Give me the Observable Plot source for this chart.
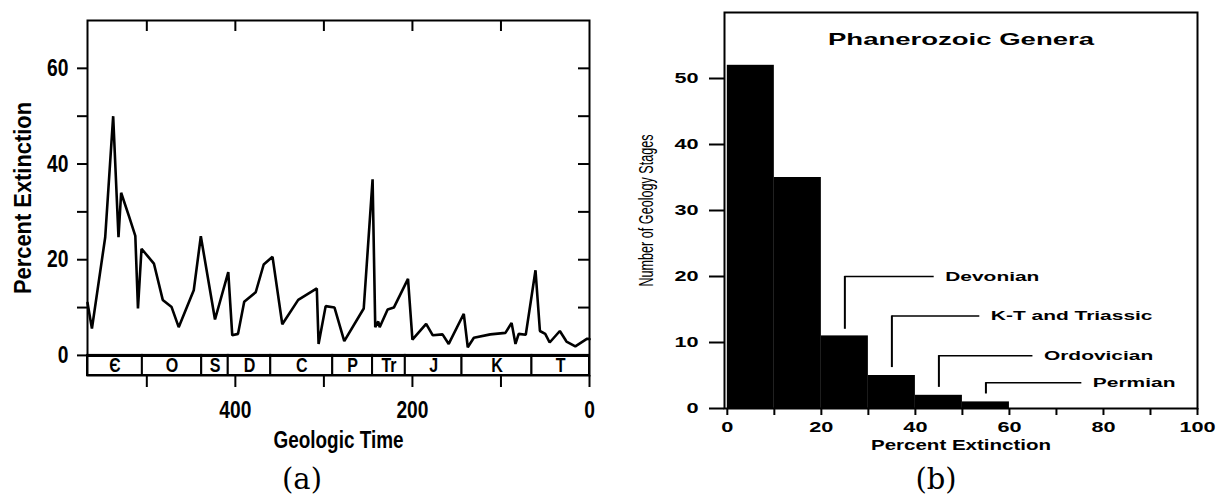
<!DOCTYPE html>
<html><head><meta charset="utf-8">
<script src="https://cdn.jsdelivr.net/npm/d3@7"></script>
<script src="https://cdn.jsdelivr.net/npm/@observablehq/plot@0.6"></script>
<style>
body{margin:0;background:#fff;width:1221px;height:503px;overflow:hidden;position:relative;font-family:"Liberation Sans",Arial,sans-serif}
#a{position:absolute;left:0;top:0}
#b{position:absolute;left:610px;top:0}
.cap{position:absolute;font-family:"DejaVu Serif","Liberation Serif",serif;font-size:29px;top:462px;transform:translateX(-50%);color:#000}
</style></head><body>
<div id="a"></div><div id="b"></div>
<div class="cap" style="left:302px">(a)</div>
<div class="cap" style="left:936px">(b)</div>
<script>
// ---- (a) percent extinction through geologic time ----
const ages = [567,562,547,538,532,529,520,513,510,506,492,482,472,464,447,439,423,408,403.5,397,390,377,368,358,347,329,308,306,298,288,277,255,245,242,238.6,237,228,221,205,200,184.5,177,166,159,142,137.5,130.6,112,95,88,83.6,80,72,61,56,50,45,33.5,26,16,2.6,0];
const pct  = [11,5.6,24.7,50,24.7,34,29,25,9.8,22.3,19.2,11.6,10.1,5.9,13.6,24.9,7.5,17.4,4.2,4.5,11.2,13.2,19,20.6,6.5,11.6,14,2.4,10.3,10,3,9.8,36.8,5.9,7.1,5.9,9.6,10,16,3.3,6.6,4.2,4.4,2.4,8.7,1.7,3.7,4.4,4.7,6.8,2.4,4.5,4.3,17.8,5.1,4.5,2.7,5.1,2.9,1.9,3.5,3.4];
const periodNames  = ["Є","O","S","D","C","P","Tr","J","K","T"];
const periodStarts = [567,505,438,408,360,290,245,208,144,65];
const periodEnds   = [505,438,408,360,290,245,208,144,65,0];
const ageTicks = [500,400,300,200,100,0];
const ageLabels = [400,200,0];

// ---- (b) histogram of Phanerozoic genera ----
const binLo = [0,10,20,30,40,50];
const binHi = [10,20,30,40,50,60];
const stageCounts = [52,35,11,5,2,1];
const eventNames = ["Devonian","K-T and Triassic","Ordovician","Permian"];
const eventPct   = [25,35,45,55];
const eventBase  = [12,6.2,3.2,2.2];
const eventLevel = [20,14,8,3.9];
const eventEnd   = [44,53.7,65,75.4];
const histTitle = "Phanerozoic Genera";
const histYLabel = "Number of Geology Stages";

const ext = ages.map((a,i)=>({age:a, pct:pct[i]}));
const periods = periodNames.map((n,i)=>({name:n, start:periodStarts[i], end:periodEnds[i]}));
const bins = binLo.map((lo,i)=>({lo, hi:binHi[i], count:stageCounts[i]}));
const events = eventNames.map((n,i)=>({label:n, pct:eventPct[i], base:eventBase[i], level:eventLevel[i], end:eventEnd[i]}));
const yLow = -4.2;

const fam = "Liberation Sans, Arial, sans-serif";
const leftH = 470, leftMT = 20, leftMB = 95;
const left = Plot.plot({
  width: 610, height: leftH,
  marginLeft: 87, marginRight: 21, marginTop: leftMT, marginBottom: leftMB,
  style: {fontFamily: fam, fontSize: "24px", fontWeight: "bold", color: "#000", background: "transparent"},
  x: {domain: [567, 0]},
  y: {domain: [yLow, 70]},
  marks: [
    Plot.rect(periods, {x1: "start", x2: "end", y1: yLow, y2: 0, fill: "white", stroke: "black", strokeWidth: 2}),
    Plot.text(periods, {x: d => (d.start + d.end) / 2, y: yLow / 2, text: "name", fontSize: 20, fontWeight: "bold"}),
    Plot.ruleY([0], {strokeWidth: 3}),
    Plot.line(ext, {x: "age", y: "pct", strokeWidth: 2.6, strokeLinejoin: "miter"}),
    Plot.frame({strokeWidth: 2}),
    // inward ticks along the top edge
    Plot.ruleX(ageTicks.filter(d => d > 0), {strokeWidth: 2, insetBottom: leftH - leftMT - leftMB - 11}),
    Plot.axisY({ticks: d3.range(0, 61, 10), tickSize: 10, tickPadding: 9, strokeWidth: 2,
      tickFormat: d => d % 20 === 0 ? String(d) : "",
      label: "Percent Extinction", labelArrow: "none", labelAnchor: "center", labelOffset: 74}),
    Plot.axisY({anchor: "right", ticks: d3.range(10, 61, 10), tickSize: -12, strokeWidth: 2, tickFormat: () => "", label: null}),
    Plot.axisX({anchor: "bottom", ticks: ageTicks, tickSize: 12, tickPadding: 13, strokeWidth: 2,
      tickFormat: d => ageLabels.includes(d) ? String(d) : "",
      label: "Geologic Time", labelArrow: "none", labelAnchor: "center", labelOffset: 72})
  ]
});

const right = Plot.plot({
  width: 611, height: 470,
  marginLeft: 114, marginRight: 24, marginTop: 12, marginBottom: 62,
  style: {fontFamily: fam, fontSize: "14px", fontWeight: "bold", color: "#000", background: "transparent"},
  x: {domain: [-0.6, 100]},
  y: {domain: [0, 60]},
  marks: [
    Plot.rectY(bins, {x1: "lo", x2: "hi", y: "count", fill: "black"}),
    Plot.ruleX(events, {x: "pct", y1: "base", y2: "level", strokeWidth: 2}),
    Plot.ruleY(events, {y: "level", x1: "pct", x2: "end", strokeWidth: 1.5}),
    Plot.text(events, {x: "end", y: "level", text: "label", textAnchor: "start", dx: 11, fontSize: 13.5}),
    Plot.text([histTitle], {frameAnchor: "top", dy: 20, fontSize: 17}),
    Plot.text([histYLabel], {frameAnchor: "left", textAnchor: "middle", lineAnchor: "middle", rotate: -90, dx: -78, fontSize: 21, fontWeight: "normal"}),
    Plot.frame({strokeWidth: 2}),
    Plot.axisY({ticks: d3.range(0, 51, 10), tickSize: 15, tickPadding: 11, strokeWidth: 2, label: null}),
    Plot.axisX({ticks: d3.range(0, 101, 10), tickSize: 7, tickPadding: 7, strokeWidth: 2,
      tickFormat: d => d % 20 === 0 ? String(d) : "",
      label: "Percent Extinction", labelArrow: "none", labelAnchor: "center", labelOffset: 41})
  ]
});

document.getElementById("a").appendChild(left);
document.getElementById("b").appendChild(right);

function squeeze(svg, fn) {
  svg.querySelectorAll("text").forEach(t => {
    const w = t.getComputedTextLength();
    if (!w) return;
    const target = fn(t, w);
    if (target && Math.abs(target - w) > 0.5) {
      t.setAttribute("textLength", target.toFixed(1));
      t.setAttribute("lengthAdjust", "spacingAndGlyphs");
    }
  });
}
squeeze(left, (t, w) => {
  const s = t.textContent.trim();
  if (s.includes("Percent Extinction")) return 192;
  if (s.includes("Geologic Time")) return 130;
  return w * 0.8;
});
squeeze(right, (t, w) => {
  const s = t.textContent.trim();
  if (s.includes(histYLabel)) return 152;
  if (s === histTitle) return 266;
  if (s.includes("Percent Extinction")) return 180;
  return w * 1.55;
});
</script>
</body></html>
